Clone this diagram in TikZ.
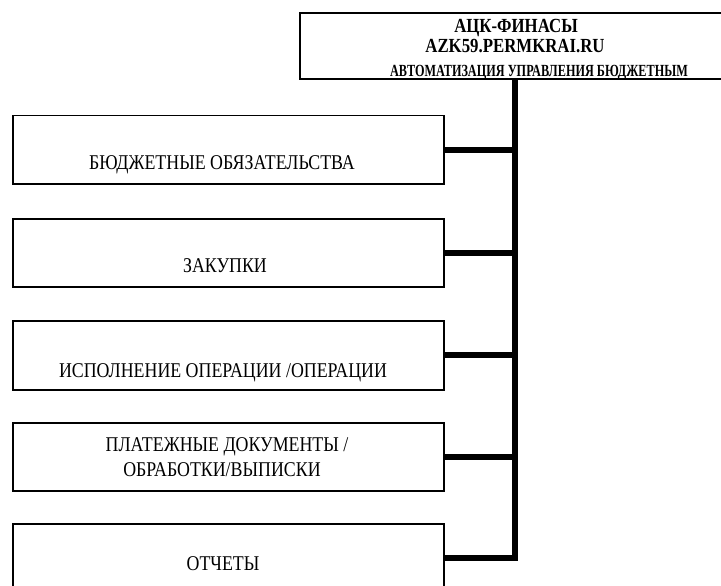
\documentclass[tikz,border=0pt]{standalone}
\usepackage{fontspec}
\setmainfont{Liberation Serif}
\newfontfamily\boxfont[FakeStretch=0.85]{Liberation Serif}
\newfontfamily\headfont[FakeStretch=0.84]{Liberation Serif Bold}
\newfontfamily\headfontn[FakeStretch=0.72]{Liberation Serif Bold}
\begin{document}
\begin{tikzpicture}[x=1pt,y=1pt,
  box/.style={draw=black, line width=1.5pt, rectangle, minimum width=431pt, minimum height=68pt, inner sep=0pt, anchor=north west},
  headbox/.style={draw=black, line width=2pt, rectangle, minimum width=470pt, minimum height=66pt, inner sep=0pt, anchor=north west},
  lbl/.style={font=\boxfont\fontsize{21}{24}\selectfont, inner sep=0pt, anchor=base},
  hlbl/.style={font=\headfont\fontsize{20}{22}\selectfont, inner sep=0pt, anchor=base},
  bus/.style={line width=6pt, line join=miter, line cap=butt}
]
\useasboundingbox (0,0) rectangle (721,-586);
\clip (0,0) rectangle (721,-586);
\fill[white] (0,0) rectangle (721,-586);

% head box
\node[headbox] (head) at (299,-12) {};
\node[hlbl] (h1) at (516,-33) {АЦК-ФИНАСЫ};
\node[hlbl] (h2) at (515,-53) {AZK59.PERMKRAI.RU};
\node[hlbl, font=\headfontn\fontsize{17}{19}\selectfont] (h3) at (539,-77) {АВТОМАТИЗАЦИЯ УПРАВЛЕНИЯ БЮДЖЕТНЫМ};

% boxes
\node[box] (b1) at (12,-115) {};
\node[box] (b2) at (12,-218) {};
\node[box, minimum height=69pt] (b3) at (12,-320) {};
\node[box] (b4) at (12,-422) {};
\node[box] (b5) at (12,-523) {};

\node[lbl] (l1) at (222,-169) {БЮДЖЕТНЫЕ ОБЯЗАТЕЛЬСТВА};
\node[lbl] (l2) at (225,-272) {ЗАКУПКИ};
\node[lbl] (l3) at (223,-377) {ИСПОЛНЕНИЕ ОПЕРАЦИИ /ОПЕРАЦИИ};
\node[lbl] (l4a) at (227,-451) {ПЛАТЕЖНЫЕ ДОКУМЕНТЫ /};
\node[lbl] (l4b) at (222,-476) {ОБРАБОТКИ/ВЫПИСКИ};
\node[lbl] (l5) at (223,-570) {ОТЧЕТЫ};

% bus
\coordinate (busTop) at (515,-79);
\draw[bus] (b5.east) -- (b5.east -| busTop) -- (busTop);
\foreach \b in {b1,b2,b3,b4} {
  \draw[bus] (\b.east) -- (\b.east -| busTop);
}
\end{tikzpicture}
\end{document}
